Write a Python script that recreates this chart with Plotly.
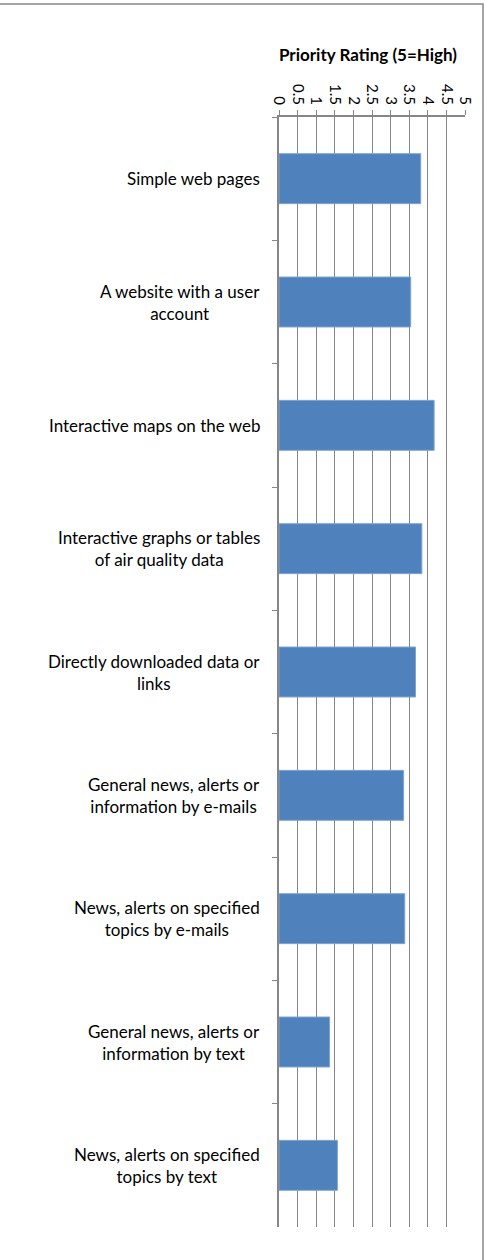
import plotly.graph_objects as go

categories = [
    "Simple web pages",
    "A website with a user<br>account",
    "Interactive maps on the web",
    "Interactive graphs or tables<br>of air quality data",
    "Directly downloaded data or<br>links",
    "General news, alerts or<br>information by e-mails",
    "News, alerts on specified<br>topics by e-mails",
    "General news, alerts or<br>information by text",
    "News, alerts on specified<br>topics by text",
]
ratings = [3.81, 3.54, 4.17, 3.84, 3.67, 3.35, 3.38, 1.36, 1.57]
tick_vals = [0, 0.5, 1, 1.5, 2, 2.5, 3, 3.5, 4, 4.5, 5]
tick_text = ["0", "0.5", "1", "1.5", "2", "2.5", "3", "3.5", "4", "4.5", "5"]

W, H = 488, 1260
L, R, T, B = 279, 23, 117, 33
pw, ph = W - L - R, H - T - B

FONT = "Lato"
AXIS_GREY = "#868686"

fig = go.Figure(
    go.Bar(
        x=ratings,
        y=categories,
        orientation="h",
        marker=dict(color="#4F81BD", line=dict(color="#7FA4D2", width=1)),
        hoverinfo="x+y",
    )
)

# category labels, centred lines, right-aligned block left of the axis
for cat in categories:
    fig.add_annotation(
        x=-17 / pw, xref="paper", xanchor="right",
        y=cat, yref="y", yanchor="middle",
        text=cat, showarrow=False, align="center",
        font=dict(family=FONT, size=17, color="#000000"),
    )

# outer chart frame
fig.add_shape(
    type="rect", xref="paper", yref="paper",
    x0=(-3 - L) / pw, x1=(483 - L) / pw,
    y0=(H - B - (H + 5)) / ph, y1=(H - B - 4) / ph,
    line=dict(color=AXIS_GREY, width=1.5), fillcolor="rgba(0,0,0,0)",
    layer="below",
)

fig.update_layout(
    width=W, height=H,
    margin=dict(l=L, r=R, t=T, b=B, pad=0),
    paper_bgcolor="white", plot_bgcolor="white",
    showlegend=False,
    bargap=0.595,
    font=dict(family=FONT, color="#000000"),
    title=dict(
        text="<b>Priority Rating (5=High)</b>",
        x=368 / W, xanchor="center",
        y=1 - 55 / H, yanchor="middle",
        font=dict(family=FONT, size=17, color="#000000"),
    ),
    xaxis=dict(
        side="top", range=[0, 5],
        tickvals=tick_vals, ticktext=tick_text, tickangle=90,
        tickfont=dict(family=FONT, size=15, color="#000000"),
        ticks="outside", ticklen=5, tickcolor=AXIS_GREY, tickwidth=1,
        showline=True, linecolor=AXIS_GREY, linewidth=1.5,
        showgrid=True, gridcolor=AXIS_GREY, gridwidth=1,
        zeroline=False, fixedrange=True,
    ),
    yaxis=dict(
        type="category", autorange="reversed",
        showticklabels=False,
        ticks="outside", tickson="boundaries", ticklen=5,
        tickcolor=AXIS_GREY, tickwidth=1,
        showline=True, linecolor=AXIS_GREY, linewidth=2,
        showgrid=False, zeroline=False, fixedrange=True,
    ),
)

fig.write_html("out.html")
